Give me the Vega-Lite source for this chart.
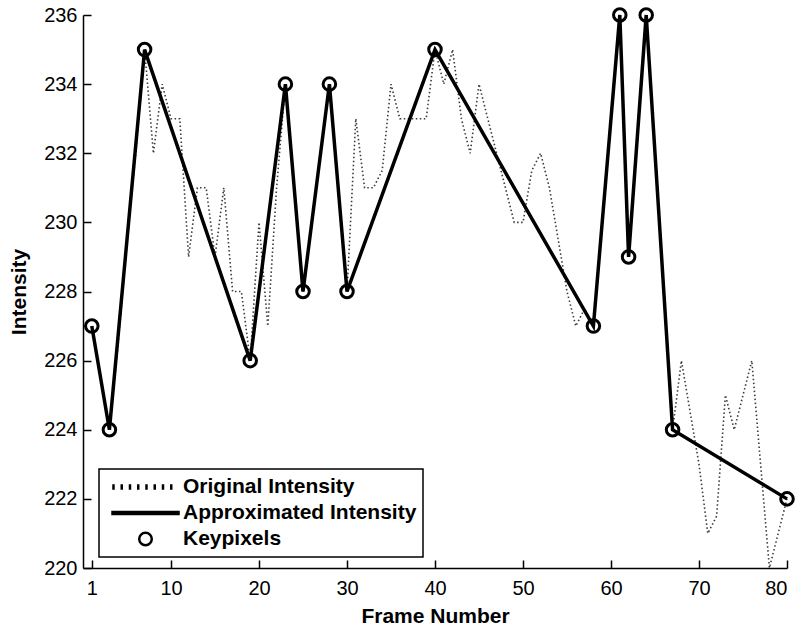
{
  "$schema": "https://vega.github.io/schema/vega-lite/v6.json",
  "width": 704,
  "height": 553,
  "autosize": {"type": "none"},
  "padding": {"left": 83, "top": 15, "right": 10, "bottom": 60},
  "background": "white",
  "datasets": {
    "original": [
      {"frame": 1, "intensity": 227}, {"frame": 2, "intensity": 225.5}, {"frame": 3, "intensity": 224},
      {"frame": 4, "intensity": 226.5}, {"frame": 5, "intensity": 229.5}, {"frame": 6, "intensity": 232},
      {"frame": 7, "intensity": 235}, {"frame": 8, "intensity": 232}, {"frame": 9, "intensity": 234},
      {"frame": 10, "intensity": 233}, {"frame": 11, "intensity": 233}, {"frame": 12, "intensity": 229},
      {"frame": 13, "intensity": 231}, {"frame": 14, "intensity": 231}, {"frame": 15, "intensity": 229},
      {"frame": 16, "intensity": 231}, {"frame": 17, "intensity": 228}, {"frame": 18, "intensity": 228},
      {"frame": 19, "intensity": 226}, {"frame": 20, "intensity": 230}, {"frame": 21, "intensity": 227},
      {"frame": 22, "intensity": 231}, {"frame": 23, "intensity": 234}, {"frame": 24, "intensity": 231},
      {"frame": 25, "intensity": 228}, {"frame": 26, "intensity": 230}, {"frame": 27, "intensity": 232},
      {"frame": 28, "intensity": 234}, {"frame": 29, "intensity": 231}, {"frame": 30, "intensity": 228},
      {"frame": 31, "intensity": 233}, {"frame": 32, "intensity": 231}, {"frame": 33, "intensity": 231},
      {"frame": 34, "intensity": 231.5}, {"frame": 35, "intensity": 234}, {"frame": 36, "intensity": 233},
      {"frame": 37, "intensity": 233}, {"frame": 38, "intensity": 233}, {"frame": 39, "intensity": 233},
      {"frame": 40, "intensity": 235}, {"frame": 41, "intensity": 234}, {"frame": 42, "intensity": 235},
      {"frame": 43, "intensity": 233}, {"frame": 44, "intensity": 232}, {"frame": 45, "intensity": 234},
      {"frame": 46, "intensity": 233}, {"frame": 47, "intensity": 232}, {"frame": 48, "intensity": 231},
      {"frame": 49, "intensity": 230}, {"frame": 50, "intensity": 230}, {"frame": 51, "intensity": 231.5},
      {"frame": 52, "intensity": 232}, {"frame": 53, "intensity": 231}, {"frame": 54, "intensity": 229.5},
      {"frame": 55, "intensity": 228}, {"frame": 56, "intensity": 227}, {"frame": 57, "intensity": 227.5},
      {"frame": 58, "intensity": 227}, {"frame": 59, "intensity": 230}, {"frame": 60, "intensity": 233},
      {"frame": 61, "intensity": 236}, {"frame": 62, "intensity": 229}, {"frame": 63, "intensity": 232.5},
      {"frame": 64, "intensity": 236}, {"frame": 65, "intensity": 232}, {"frame": 66, "intensity": 228},
      {"frame": 67, "intensity": 224}, {"frame": 68, "intensity": 226}, {"frame": 69, "intensity": 224.5},
      {"frame": 70, "intensity": 223}, {"frame": 71, "intensity": 221}, {"frame": 72, "intensity": 221.5},
      {"frame": 73, "intensity": 225}, {"frame": 74, "intensity": 224}, {"frame": 75, "intensity": 225},
      {"frame": 76, "intensity": 226}, {"frame": 77, "intensity": 223}, {"frame": 78, "intensity": 220},
      {"frame": 79, "intensity": 221}, {"frame": 80, "intensity": 222}
    ],
    "key": [
      {"frame": 1, "intensity": 227, "series": "Keypixels"},
      {"frame": 3, "intensity": 224, "series": "Keypixels"},
      {"frame": 7, "intensity": 235, "series": "Keypixels"},
      {"frame": 19, "intensity": 226, "series": "Keypixels"},
      {"frame": 23, "intensity": 234, "series": "Keypixels"},
      {"frame": 25, "intensity": 228, "series": "Keypixels"},
      {"frame": 28, "intensity": 234, "series": "Keypixels"},
      {"frame": 30, "intensity": 228, "series": "Keypixels"},
      {"frame": 40, "intensity": 235, "series": "Keypixels"},
      {"frame": 58, "intensity": 227, "series": "Keypixels"},
      {"frame": 61, "intensity": 236, "series": "Keypixels"},
      {"frame": 62, "intensity": 229, "series": "Keypixels"},
      {"frame": 64, "intensity": 236, "series": "Keypixels"},
      {"frame": 67, "intensity": 224, "series": "Keypixels"},
      {"frame": 80, "intensity": 222, "series": "Keypixels"}
    ]
  },
  "encoding": {
    "x": {
      "field": "frame", "type": "quantitative",
      "scale": {"domain": [0, 80], "nice": false, "zero": false},
      "axis": {
        "title": "Frame Number",
        "values": [1, 10, 20, 30, 40, 50, 60, 70, 80],
        "grid": false, "tickSize": -8, "labelPadding": 18,
        "titlePadding": 7
      }
    },
    "y": {
      "field": "intensity", "type": "quantitative",
      "scale": {"domain": [220, 236], "nice": false, "zero": false},
      "axis": {
        "title": "Intensity",
        "values": [220, 222, 224, 226, 228, 230, 232, 234, 236],
        "grid": false, "tickSize": -8, "labelPadding": 14,
        "titlePadding": 14
      }
    }
  },
  "layer": [
    {
      "data": {"name": "original"},
      "mark": {"type": "line", "color": "#3a3a3a", "strokeWidth": 1.6, "strokeDash": [1.5, 2.5]}
    },
    {
      "data": {"name": "key"},
      "mark": {"type": "line", "color": "black", "strokeWidth": 3.5}
    },
    {
      "data": {"name": "key"},
      "mark": {"type": "point", "filled": false, "color": "black", "strokeWidth": 3, "size": 4356, "opacity": 1},
      "encoding": {
        "shape": {
          "field": "series", "type": "nominal",
          "scale": {
            "domain": ["Original Intensity", "Approximated Intensity", "Keypixels"],
            "range": [
              "M-0.97,-0.08V0.08M-0.72,-0.08V0.08M-0.47,-0.08V0.08M-0.22,-0.08V0.08M0.03,-0.08V0.08M0.28,-0.08V0.08M0.53,-0.08V0.08M0.78,-0.08V0.08",
              "M-1,-0.03H1V0.03H-1Z",
              "M0.19,0A0.19,0.19,0,1,1,-0.19,0A0.19,0.19,0,1,1,0.19,0Z"
            ]
          },
          "legend": {
            "title": null,
            "orient": "none",
            "legendX": 16,
            "legendY": 454,
            "symbolSize": 4356,
            "symbolStrokeWidth": 2.5,
            "symbolStrokeColor": "black",
            "symbolFillColor": "transparent",
            "symbolOffset": 6,
            "labelOffset": 3,
            "clipHeight": 24,
            "rowPadding": 2,
            "padding": 6,
            "strokeColor": "black",
            "fillColor": "white",
            "labelFont": "Liberation Sans",
            "labelFontWeight": "bold",
            "labelFontSize": 21,
            "labelColor": "black",
            "labelLimit": 400
          }
        }
      }
    }
  ],
  "config": {
    "view": {"stroke": null},
    "legend": {"strokeWidth": 1.5},
    "axis": {
      "domainColor": "black", "domainWidth": 1.5,
      "tickColor": "black", "tickWidth": 1.5,
      "labelFont": "Liberation Sans", "labelFontSize": 20, "labelColor": "black",
      "titleFont": "Liberation Sans", "titleFontSize": 21, "titleFontWeight": "bold", "titleColor": "black"
    }
  }
}
